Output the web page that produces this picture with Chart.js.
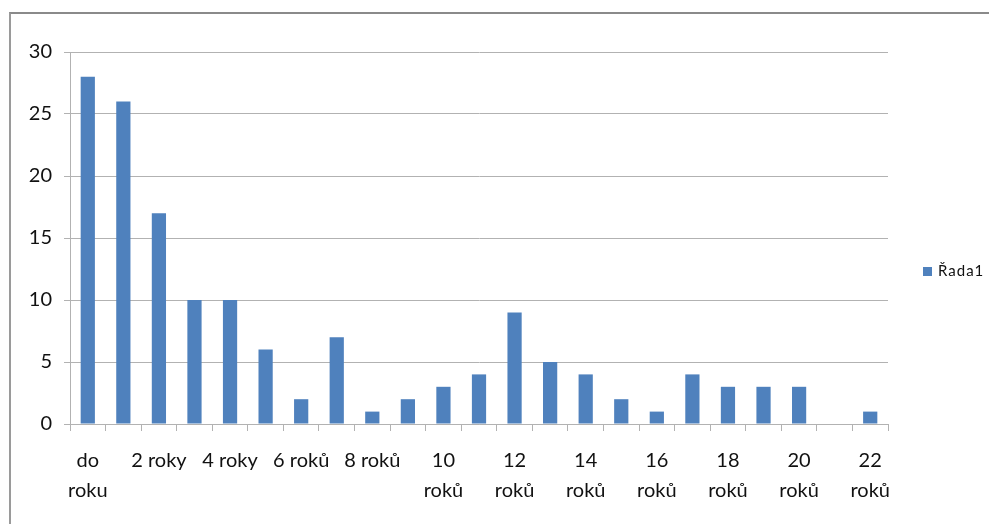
<!DOCTYPE html>
<html>
<head>
<meta charset="utf-8">
<script src="https://cdn.jsdelivr.net/npm/chart.js@4/dist/chart.umd.min.js"></script>
<style>
  html, body { margin: 0; padding: 0; background: #fff; }
  #wrap { position: relative; width: 989px; height: 524px; overflow: hidden; }
  #frame { position: absolute; left: 9px; top: 12px; width: 1000px; height: 600px;
           border-top: 2px solid #8a8a8a; border-left: 2px solid #9a9a9a; box-sizing: border-box; }
  canvas { position: absolute; left: 0; top: 0; }
</style>
</head>
<body>
<div id="wrap">
  <div id="frame"></div>
  <canvas id="c" width="989" height="524"></canvas>
</div>
<script>
// Délka praxe – kategorie, hodnoty a popisky osy X
const categories = [
  "do roku", "1 rok", "2 roky", "3 roky", "4 roky", "5 roků", "6 roků", "7 roků",
  "8 roků", "9 roků", "10 roků", "11 roků", "12 roků", "13 roků", "14 roků", "15 roků",
  "16 roků", "17 roků", "18 roků", "19 roků", "20 roků", "21 roků", "22 roků"
];
const seriesName = "Řada1";
const seriesValues = [28, 26, 17, 10, 10, 6, 2, 7, 1, 2, 3, 4, 9, 5, 4, 2, 1, 4, 3, 3, 3, 0, 1];
// popisky zobrazené pod osou (každá druhá kategorie, dlouhé zalomené)
const xTickLabels = [
  ["do", "roku"], "", "2 roky", "", "4 roky", "", "6 roků", "", "8 roků", "",
  ["10", "roků"], "", ["12", "roků"], "", ["14", "roků"], "", ["16", "roků"], "",
  ["18", "roků"], "", ["20", "roků"], "", ["22", "roků"]
];
const yTicks = [0, 5, 10, 15, 20, 25, 30];

const barColor = "#4F81BD";
const gridColor = "#b2b2b2";
const textColor = "#111";

// legenda vpravo od grafu
const sideLegend = {
  id: "sideLegend",
  afterDraw(chart) {
    const ctx = chart.ctx;
    const ds = chart.data.datasets[0];
    const x = chart.chartArea.right + 35;
    const y = 271.5;
    ctx.save();
    ctx.fillStyle = ds.backgroundColor;
    ctx.fillRect(x, y - 4.5, 9, 9);
    ctx.fillStyle = textColor;
    ctx.font = "15px Lato";
    ctx.textBaseline = "middle";
    ctx.textAlign = "left";
    if ("letterSpacing" in ctx) ctx.letterSpacing = "1px";
    ctx.fillText(ds.label, x + 15, y);
    ctx.restore();
  }
};

new Chart(document.getElementById("c"), {
  type: "bar",
  data: {
    labels: categories,
    datasets: [{
      label: seriesName,
      data: seriesValues,
      backgroundColor: barColor,
      borderWidth: 0,
      barPercentage: 0.4,
      categoryPercentage: 1.0
    }]
  },
  options: {
    responsive: false,
    animation: false,
    layout: { padding: { left: 0, top: 52, right: 101, bottom: 0 } },
    plugins: {
      legend: { display: false },
      tooltip: { enabled: false }
    },
    scales: {
      x: {
        offset: true,
        grid: {
          offset: true,
          drawOnChartArea: false,
          drawTicks: true,
          tickLength: 7,
          color: gridColor
        },
        border: { color: gridColor, width: 1 },
        ticks: {
          autoSkip: false,
          maxRotation: 0,
          minRotation: 0,
          padding: 15,
          color: textColor,
          font: { family: "Lato", size: 20, lineHeight: 1.5 },
          callback: (v, i) => xTickLabels[i]
        },
        afterFit: s => { s.height = 100; }
      },
      y: {
        min: 0,
        max: 30,
        afterBuildTicks: s => { s.ticks = yTicks.map(v => ({ value: v })); },
        grid: {
          color: gridColor,
          tickLength: 6,
          drawTicks: true
        },
        border: { color: gridColor, width: 1 },
        ticks: {
          padding: 12,
          color: textColor,
          font: { family: "Lato", size: 20 }
        },
        afterFit: s => { s.width = 70; }
      }
    }
  },
  plugins: [sideLegend]
});
</script>
</body>
</html>
